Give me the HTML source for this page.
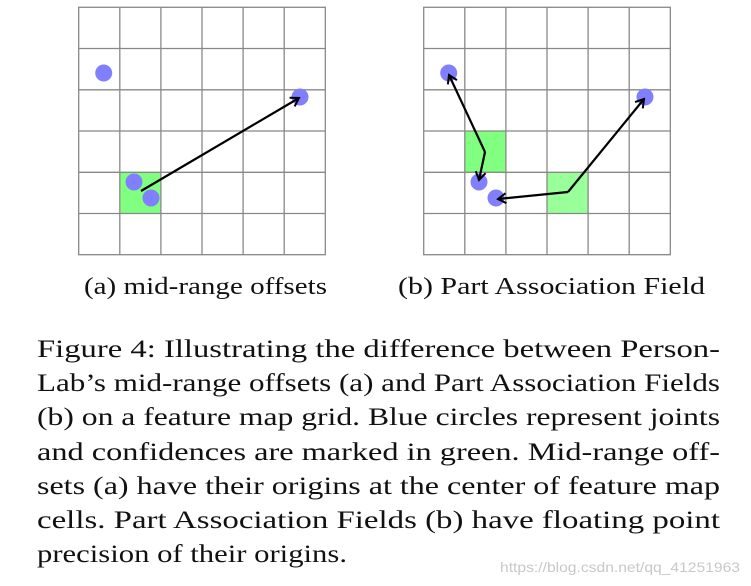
<!DOCTYPE html>
<html><head><meta charset="utf-8"><style>
html,body{margin:0;padding:0;background:#fff;width:751px;height:586px;overflow:hidden}
svg{display:block}
text{font-family:"Liberation Serif",serif;fill:#111}
</style></head><body>
<svg width="751" height="586" viewBox="0 0 751 586" xmlns="http://www.w3.org/2000/svg">
<defs>
<marker id="ah" markerWidth="12" markerHeight="12" refX="10" refY="6" orient="auto" markerUnits="userSpaceOnUse">
<path d="M2,1 L10,6 L2,11" fill="none" stroke="#000" stroke-width="2"/>
</marker>
<g id="grid" stroke="#888" stroke-width="1.3" fill="none">
<rect x="0" y="0" width="246.6" height="247.4"/>
<path d="M41.1,0V247.4M82.2,0V247.4M123.3,0V247.4M164.4,0V247.4M205.5,0V247.4M0,41.2H246.6M0,82.5H246.6M0,123.7H246.6M0,165H246.6M0,206.2H246.6"/>
</g>
</defs>
<rect x="120" y="172.3" width="41.1" height="41.2" fill="#80ff80"/>
<use href="#grid" x="78.7" y="7.3"/>
<g fill="#8080ff">
<circle cx="103.7" cy="73" r="8.5"/>
<circle cx="134" cy="182" r="8.5"/>
<circle cx="151" cy="198" r="8.5"/>
<circle cx="300" cy="97" r="8.5"/>
</g>
<line x1="141" y1="191" x2="299" y2="98" stroke="#000" stroke-width="2.2" marker-end="url(#ah)"/>
<rect x="465" y="131" width="41.1" height="41.2" fill="#80ff80"/>
<rect x="547.2" y="172.3" width="41.1" height="41.2" fill="#99ff99"/>
<use href="#grid" x="423.7" y="7.3"/>
<g fill="#8080ff">
<circle cx="448.7" cy="73" r="8.5"/>
<circle cx="479" cy="182" r="8.5"/>
<circle cx="496" cy="198" r="8.5"/>
<circle cx="645" cy="97" r="8.5"/>
</g>
<g stroke="#000" stroke-width="2.2" fill="none">
<line x1="485" y1="152" x2="449" y2="75" marker-end="url(#ah)"/>
<line x1="485" y1="152" x2="479" y2="180" marker-end="url(#ah)"/>
<line x1="568" y1="192" x2="498" y2="199" marker-end="url(#ah)"/>
<line x1="568" y1="192" x2="644" y2="99" marker-end="url(#ah)"/>
</g>
<text x="84" y="294" font-size="24" textLength="243" lengthAdjust="spacingAndGlyphs">(a) mid-range offsets</text>
<text x="398" y="294" font-size="24" textLength="307" lengthAdjust="spacingAndGlyphs">(b) Part Association Field</text>
<g font-size="25">
<text x="37" y="357" textLength="683" lengthAdjust="spacingAndGlyphs">Figure 4:  Illustrating the difference between Person-</text>
<text x="37" y="391" textLength="683" lengthAdjust="spacingAndGlyphs">Lab’s mid-range offsets (a) and Part Association Fields</text>
<text x="37" y="425" textLength="683" lengthAdjust="spacingAndGlyphs">(b) on a feature map grid. Blue circles represent joints</text>
<text x="37" y="460" textLength="683" lengthAdjust="spacingAndGlyphs">and confidences are marked in green.  Mid-range off-</text>
<text x="37" y="494" textLength="683" lengthAdjust="spacingAndGlyphs">sets (a) have their origins at the center of feature map</text>
<text x="37" y="528" textLength="683" lengthAdjust="spacingAndGlyphs">cells.  Part Association Fields (b) have floating point</text>
<text x="37" y="562" textLength="310" lengthAdjust="spacingAndGlyphs">precision of their origins.</text>
</g>
<text x="500" y="572" font-size="14" textLength="240" lengthAdjust="spacingAndGlyphs" style="font-family:'Liberation Sans',sans-serif;fill:#c8c8c8">https://blog.csdn.net/qq_41251963</text>
</svg>
</body></html>
